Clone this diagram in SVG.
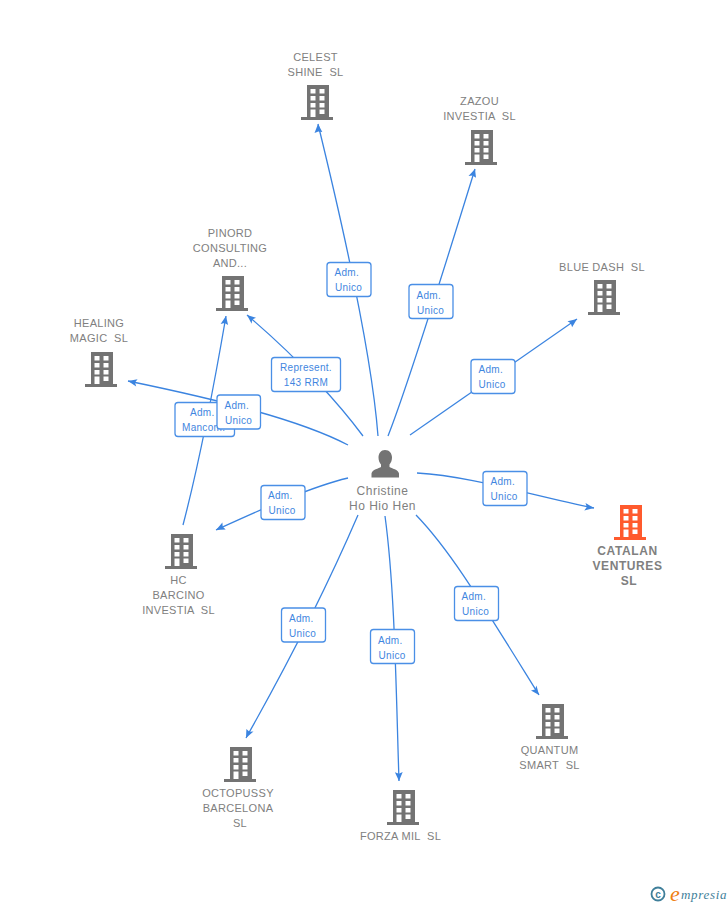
<svg xmlns="http://www.w3.org/2000/svg" xmlns:xlink="http://www.w3.org/1999/xlink" width="728" height="905" viewBox="0 0 728 905">
<style>
text{font-family:"Liberation Sans",Arial,sans-serif;white-space:pre}
.n{font-size:11px;fill:#808080;text-anchor:middle;letter-spacing:.3px}
.m{font-size:12px;fill:#808080;text-anchor:middle;font-weight:bold;letter-spacing:.6px}
.p{font-size:12px;fill:#808080;text-anchor:middle;letter-spacing:.5px}
.l{font-size:10px;fill:#3f86e0;letter-spacing:.3px}
.c{fill:none;stroke:#3b84e0;stroke-width:1.3}
.b{fill:#fff;stroke:#4a8fe6;stroke-width:1.3}
.a{fill:#3b84e0}
</style>
<defs>
<symbol id="bld" viewBox="0 0 32 35" width="32" height="35" overflow="visible">
<path fill-rule="evenodd" fill="currentColor" d="M6 0H28V32H32V35H0V32H6ZM9.500 4V8.500H14.500V4ZM18.500 4V8.500H23.500V4ZM9.500 11V15.500H14.500V11ZM18.500 11V15.500H23.500V11ZM9.500 18V22.500H14.500V18ZM18.500 18V22.500H23.500V18ZM9.500 24.500V32H14.500V24.500ZM18.500 24.500V29H23.500V24.500Z"/>
</symbol>
</defs>
<g id="connectors">
<path class="c" d="M378 436C373 370 350 255 318 124"/><path class="a" d="M318 124l-3.500 9 3.900-1.500 3.900.5z"/>
<path class="c" d="M388 436C410 380 450 250 475 169"/><path class="a" d="M475 169l-6.500 7 4-.5 3.500 2.300z"/>
<path class="c" d="M410 435L577 319"/><path class="a" d="M577 319l-9.500 2.300 3.300 2 1.300 3.900z"/>
<path class="c" d="M417 473C470 476 530 495 594 508"/><path class="a" d="M594 508l-8.500-5 1.300 4-2.500 3.500z"/>
<path class="c" d="M416 515C450 550 480 600 539 695"/><path class="a" d="M539 695l-2.500-9.500-1.500 4-4 1z"/>
<path class="c" d="M385 516C395 590 396 690 399 781"/><path class="a" d="M399 781l3.700-9-3.800 1.700-4-1.500z"/>
<path class="c" d="M358 515C330 580 290 660 246 738"/><path class="a" d="M246 738l7.500-6.500-4.100.2-3-2.600z"/>
<path class="c" d="M348 478C310 487 260 510 216 530"/><path class="a" d="M216 530l9.700-.4-3-2.900-.3-4.200z"/>
<path class="c" d="M348 445C300 420 220 400 128 381"/><path class="a" d="M128 381l8.200 5.500-1.200-4 2.600-3.300z"/>
<path class="c" d="M363 436C340 405 300 360 247 315"/><path class="a" d="M247 315l4.600 8.700.6-4.100 3.800-1.800z"/>
<path class="c" d="M183 525C200 460 215 380 226 316"/><path class="a" d="M226 316l-5.400 8 4-1.100 3.500 2.200z"/>
</g>
<g id="label-celest"><rect class="b" x="327" y="262.500" width="44" height="34" rx="3"/><text class="l" x="334.500" y="275.500">Adm.</text><text class="l" x="335" y="290.500">Unico</text></g>
<g id="label-zazou"><rect class="b" x="409" y="284.500" width="44" height="34" rx="3"/><text class="l" x="416.500" y="298.500">Adm.</text><text class="l" x="417" y="313.500">Unico</text></g>
<g id="label-bluedash"><rect class="b" x="471" y="359.500" width="44" height="34" rx="3"/><text class="l" x="478.500" y="373">Adm.</text><text class="l" x="478.500" y="388">Unico</text></g>
<g id="label-catalan"><rect class="b" x="483" y="471.500" width="44" height="34" rx="3"/><text class="l" x="490.500" y="485">Adm.</text><text class="l" x="490.500" y="500">Unico</text></g>
<g id="label-quantum"><rect class="b" x="454.500" y="586.500" width="44" height="34" rx="3"/><text class="l" x="461.500" y="600">Adm.</text><text class="l" x="462" y="615">Unico</text></g>
<g id="label-forza"><rect class="b" x="370.500" y="629.500" width="44" height="34" rx="3"/><text class="l" x="378" y="643.500">Adm.</text><text class="l" x="378.500" y="658.500">Unico</text></g>
<g id="label-octopussy"><rect class="b" x="281.500" y="608" width="44" height="34" rx="3"/><text class="l" x="289" y="621.500">Adm.</text><text class="l" x="289" y="636.500">Unico</text></g>
<g id="label-hc2"><rect class="b" x="261" y="485.500" width="44" height="34" rx="3"/><text class="l" x="268" y="498.500">Adm.</text><text class="l" x="268.500" y="513.500">Unico</text></g>
<g id="label-pinord"><rect class="b" x="271.500" y="357.500" width="69" height="34" rx="3"/><text class="l" x="306" y="371" text-anchor="middle">Represent.</text><text class="l" x="306" y="386" text-anchor="middle">143 RRM</text></g>
<g id="label-hc"><rect class="b" x="175" y="402.500" width="59.500" height="34" rx="3"/><text class="l" x="190" y="415.500">Adm.</text><text class="l" x="182" y="430.500">Mancom.</text></g>
<g id="label-healing"><rect class="b" x="217" y="395" width="43.500" height="34" rx="3"/><text class="l" x="224.500" y="408.500">Adm.</text><text class="l" x="225" y="423.500">Unico</text></g>
<g id="center"><path fill="#737373" d="M385 450c4.500 0 7 3.500 7 7.500 0 3-1 5-2.500 7v2.500c2 1.500 9 2.500 9.500 6.500v4h-27.500v-4c.5-4 7.500-5 9.500-6.500V464.500c-1.500-2-2.500-4-2.500-7 0-4 2.500-7.500 6.500-7.500z"/><text class="p" x="382.500" y="495">Christine</text><text class="p" x="382.500" y="510">Ho Hio Hen</text></g>
<g id="celest" color="#737373"><text class="n" x="315.500" y="61">CELEST</text><text class="n" x="315.500" y="76">SHINE  SL</text><use xlink:href="#bld" href="#bld" x="301" y="85"/></g>
<g id="zazou" color="#737373"><text class="n" x="479.500" y="105">ZAZOU</text><text class="n" x="479.500" y="120">INVESTIA  SL</text><use xlink:href="#bld" href="#bld" x="465" y="130"/></g>
<g id="bluedash" color="#737373"><text class="n" x="602" y="271">BLUE DASH  SL</text><use xlink:href="#bld" href="#bld" x="588" y="280"/></g>
<g id="pinord" color="#737373"><text class="n" x="230" y="237">PINORD</text><text class="n" x="230" y="252">CONSULTING</text><text class="n" x="230" y="267">AND...</text><use xlink:href="#bld" href="#bld" x="216" y="276"/></g>
<g id="healing" color="#737373"><text class="n" x="99" y="327">HEALING</text><text class="n" x="99" y="342">MAGIC  SL</text><use xlink:href="#bld" href="#bld" x="85" y="352"/></g>
<g id="hc" color="#737373"><use xlink:href="#bld" href="#bld" x="165" y="534"/><text class="n" x="178.500" y="584">HC</text><text class="n" x="178.500" y="599">BARCINO</text><text class="n" x="178.500" y="614">INVESTIA  SL</text></g>
<g id="octopussy" color="#737373"><use xlink:href="#bld" href="#bld" x="224" y="747"/><text class="n" x="238" y="797">OCTOPUSSY</text><text class="n" x="238" y="812">BARCELONA</text><text class="n" x="240" y="827">SL</text></g>
<g id="forza" color="#737373"><use xlink:href="#bld" href="#bld" x="387" y="790"/><text class="n" x="400.500" y="840">FORZA MIL  SL</text></g>
<g id="quantum" color="#737373"><use xlink:href="#bld" href="#bld" x="536" y="704"/><text class="n" x="549.500" y="754">QUANTUM</text><text class="n" x="549.500" y="769">SMART  SL</text></g>
<g id="catalan" color="#ff5a2d"><use xlink:href="#bld" href="#bld" x="614" y="505"/><text class="m" x="627.500" y="555">CATALAN</text><text class="m" x="627.500" y="570">VENTURES</text><text class="m" x="629" y="585">SL</text></g>
<g id="logo"><circle cx="658" cy="894" r="6.500" fill="none" stroke="#3f7f9a" stroke-width="1.800"/><text x="658" y="897.500" font-size="10" font-weight="bold" fill="#3f7f9a" text-anchor="middle">c</text><text x="670" y="901" font-size="22" fill="#f07f10" font-style="italic" style="font-family:'Liberation Serif',serif">e</text><text x="681" y="899" font-size="13" fill="#3f7f9a" font-style="italic" style="font-family:'Liberation Serif',serif;letter-spacing:.7px">mpresia</text></g>
</svg>
